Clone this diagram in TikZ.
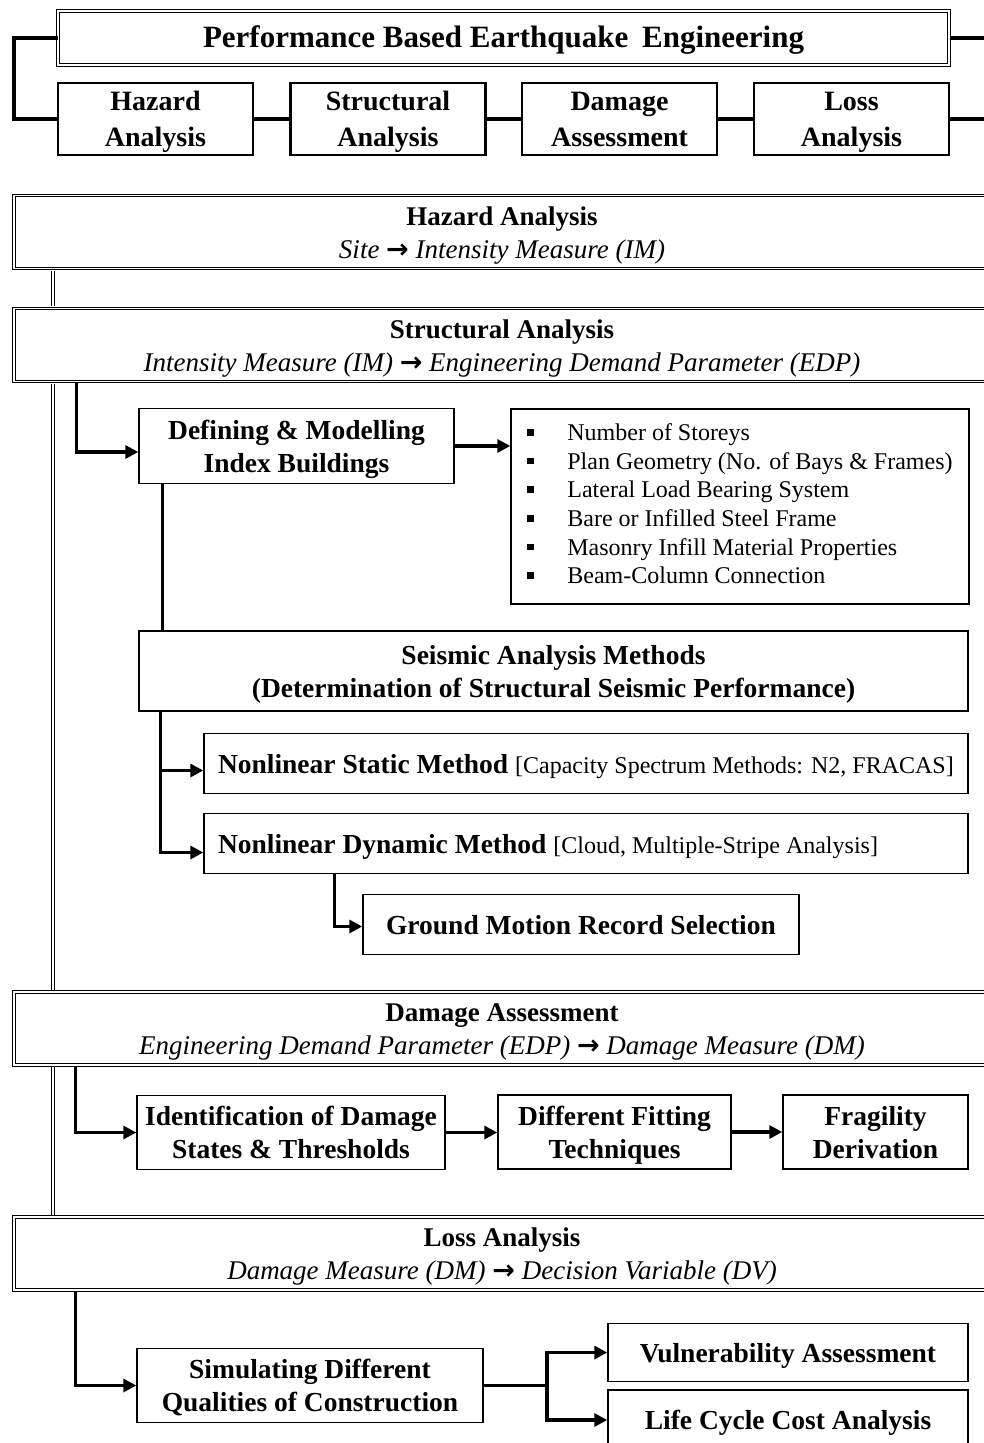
\documentclass[tikz,border=0pt]{standalone}
\usepackage{fontspec}
\setmainfont{Liberation Serif}
\newfontfamily\symfont{DejaVu Sans}
\usetikzlibrary{arrows.meta,positioning}

\newcommand{\bigbf}{\fontsize{27.5}{33}\selectfont\bfseries}
\newcommand{\smallrm}{\fontsize{24}{28.6}\selectfont}
\newcommand{\sqbul}{\rule[5pt]{6.5pt}{6.5pt}}
\newcommand{\arrw}{{\symfont\bfseries\upshape →}}
\newcommand{\tp}{\rule{0pt}{26pt}}

\begin{document}
\begin{tikzpicture}[x=1pt,y=-1pt]
\tikzstyle{every node}+=[inner sep=0pt, align=center]
\tikzstyle{txt}=[execute at begin node={\tp}, execute at end node={\rule[-7pt]{0pt}{7pt}}]
\tikzstyle{titlebox}=[txt, draw, double, line width=1pt, double distance=1.4pt, minimum width=891pt, minimum height=54pt, font=\fontsize{31}{36}\selectfont\bfseries]
\tikzstyle{topbox}=[txt, draw, line width=2.6pt, minimum width=195pt, minimum height=72pt, font=\fontsize{28}{36}\selectfont\bfseries]
\tikzstyle{phase}=[txt, draw, double, line width=1pt, double distance=1.6pt, minimum width=976pt, minimum height=73pt, font=\fontsize{27}{33}\selectfont]
\tikzstyle{box}=[txt, draw, line width=1.4pt, font=\bigbf]
\tikzstyle{link}=[line width=3.2pt]
\tikzstyle{arr}=[line width=3.2pt, -{Triangle[length=13pt,width=13pt]}]
\tikzstyle{spine}=[double, line width=1pt, double distance=1.6pt, shorten <=1.8pt, shorten >=1.8pt]
\useasboundingbox (0,0) rectangle (984,1443);
\clip (0,0) rectangle (984,1443);

\node[titlebox] (pbee) at (503.5,38) {Performance Based Earthquake\hspace{6pt} Engineering};
\node[topbox] (tha) at (155.5,119) {\tp Hazard\\Analysis};
\node[topbox] (tsa) at (388,119) {\tp Structural\\Analysis};
\node[topbox] (tda) at (619.5,119) {\tp Damage\\Assessment};
\node[topbox] (tla) at (851.5,119) {\tp Loss\\Analysis};
\coordinate (lft) at (14,0);
\coordinate (rgt) at (995,0);
\draw[link] (pbee.west) -| (lft |- tha.west) -- (tha.west);
\draw[link] (pbee.east) -- (pbee.east -| rgt);
\draw[link] (tha) -- (tsa);
\draw[link] (tsa) -- (tda);
\draw[link] (tda) -- (tla);
\draw[link] (tla.east) -- (tla.east -| rgt);

\node[phase] (pha) at (502,232) {\tp\textbf{Hazard Analysis}\\\textit{Site \arrw{} Intensity Measure (IM)}};
\node[phase] (phs) at (502,345) {\tp\textbf{Structural Analysis}\\\textit{Intensity Measure (IM) \arrw{} Engineering Demand Parameter (EDP)}};
\node[phase] (phd) at (502,1028.5) {\tp\textbf{Damage Assessment}\\\textit{Engineering Demand Parameter (EDP) \arrw{} Damage Measure (DM)}};
\node[phase] (phl) at (502,1253.5) {\tp\textbf{Loss Analysis}\\\textit{Damage Measure (DM) \arrw{} Decision Variable (DV)}};
\coordinate (spx) at (53,0);
\draw[spine] (pha.south -| spx) -- (phs.north -| spx);
\draw[spine] (phs.south -| spx) -- (phd.north -| spx);
\draw[spine] (phd.south -| spx) -- (phl.north -| spx);

\node[box, minimum width=315pt, minimum height=75pt] (dmib) at (296.5,446) {\tp Defining \& Modelling\\Index Buildings};
\node[box, minimum width=458pt, minimum height=195pt, font=\smallrm] (feat) at (740,506.5) {\begin{tabular}{@{}p{40pt}@{}l@{}}
\sqbul & Number of Storeys\\
\sqbul & Plan Geometry (No. of Bays \& Frames)\\
\sqbul & Lateral Load Bearing System\\
\sqbul & Bare or Infilled Steel Frame\\
\sqbul & Masonry Infill Material Properties\\
\sqbul & Beam-Column Connection
\end{tabular}};
\coordinate (s1) at ([xshift=63pt]phs.south west);
\draw[arr] (s1) |- ([yshift=-6pt]dmib.west);
\draw[arr] (dmib.east) -- (dmib.east -| feat.west);

\node[box, minimum width=829pt, minimum height=80pt] (seis) at (553.5,671) {\tp Seismic Analysis Methods\\(Determination of Structural Seismic Performance)};
\coordinate (d1) at ([xshift=24pt]dmib.south west);
\draw[link] (d1) -- (d1 |- seis.north);
\node[box, minimum width=764pt, minimum height=60pt] (nsm) at (586,763.5) {\makebox[736pt][l]{Nonlinear Static Method {\smallrm\mdseries [Capacity Spectrum Methods: N2, FRACAS]}}};
\node[box, minimum width=764pt, minimum height=60pt] (ndm) at (586,843.5) {\makebox[736pt][l]{Nonlinear Dynamic Method {\smallrm\mdseries [Cloud, Multiple-Stripe Analysis]}}};
\coordinate (s2) at ([xshift=22pt]seis.south west);
\draw[arr] (s2) |- ([yshift=-7pt]nsm.west);
\draw[arr] (s2) |- ([yshift=-9pt]ndm.west);
\node[box, minimum width=436pt, minimum height=60pt] (gmrs) at (581,924.5) {Ground Motion Record Selection};
\coordinate (n1) at ([xshift=131pt]ndm.south west);
\draw[arr] (n1) |- ([yshift=-2pt]gmrs.west);

\node[box, minimum width=308pt, minimum height=74pt] (idst) at (291,1132.5) {\tp Identification of Damage\\States \& Thresholds};
\node[box, minimum width=233pt, minimum height=74pt] (dft) at (614.5,1132) {\tp Different Fitting\\Techniques};
\node[box, minimum width=185pt, minimum height=74pt] (frag) at (875.5,1132) {\tp Fragility\\Derivation};
\coordinate (s3) at ([xshift=62pt]phd.south west);
\draw[arr] (s3) |- (idst.west);
\draw[arr] (idst.east) -- (idst.east -| dft.west);
\draw[arr] (dft.east) -- (dft.east -| frag.west);

\node[box, minimum width=346pt, minimum height=74pt] (sdqc) at (310,1385.5) {\tp Simulating Different\\Qualities of Construction};
\node[box, minimum width=360pt, minimum height=58pt] (vuln) at (788,1352.5) {Vulnerability Assessment};
\node[box, minimum width=360pt, minimum height=60pt] (lcca) at (788,1420) {Life Cycle Cost Analysis};
\coordinate (s4) at ([xshift=62pt]phl.south west);
\draw[arr] (s4) |- (sdqc.west);
\coordinate (br) at (547,0);
\draw[link] (sdqc.east) -- (sdqc.east -| br);
\draw[arr] (sdqc.east -| br) |- (vuln.west);
\draw[arr] (sdqc.east -| br) |- (lcca.west);
\end{tikzpicture}
\end{document}
